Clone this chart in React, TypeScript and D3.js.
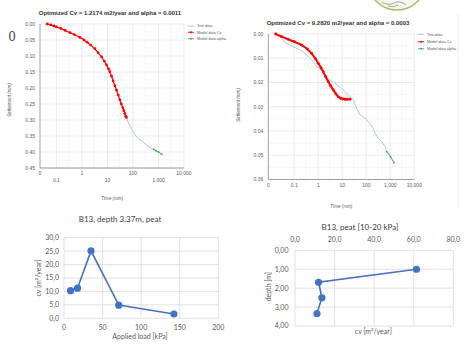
import React from 'react';
import * as d3 from 'd3';

// top-left consolidation test: [time (min), settlement (mm)]
const LEFT_TEST: [number, number][] = [
  [0.04, 0.0], [0.1, 0.008], [0.3, 0.024], [1, 0.044], [2, 0.063], [4, 0.087], [7, 0.112],
  [10, 0.134], [15, 0.168], [20, 0.196], [30, 0.236], [40, 0.263], [55, 0.292], [70, 0.313],
  [100, 0.337], [150, 0.356], [240, 0.368], [300, 0.375], [450, 0.385], [700, 0.394],
  [1000, 0.400], [1330, 0.407],
];
const LEFT_CV: [number, number][] = [
  [0.044, 0.0], [0.06, 0.003], [0.08, 0.006], [0.1, 0.009], [0.15, 0.014], [0.22, 0.02],
  [0.34, 0.027], [0.5, 0.033], [0.83, 0.042], [1.2, 0.05], [1.6, 0.057], [2.2, 0.066],
  [3.2, 0.077], [4.3, 0.09], [5.9, 0.103], [7.5, 0.116], [9.2, 0.128], [11, 0.14],
  [12.4, 0.149], [14.5, 0.163], [16.7, 0.178], [19.5, 0.193], [22.7, 0.207], [26.5, 0.222],
  [30.6, 0.237], [35, 0.25], [40, 0.262], [44, 0.271], [48, 0.28], [52, 0.288], [55, 0.292],
];
const LEFT_ALPHA: [number, number][] = [[650, 0.392], [800, 0.396], [1000, 0.4], [1330, 0.407]];

// top-right test
const RIGHT_TEST: [number, number][] = [
  [0.0168, 0.0], [0.03, 0.0018], [0.041, 0.0036], [0.066, 0.0045], [0.126, 0.0059],
  [0.204, 0.0069], [0.329, 0.0087], [0.531, 0.0107], [0.858, 0.0135], [1.18, 0.0142],
  [1.9, 0.0169], [3.07, 0.019], [4.96, 0.0203], [8.02, 0.022], [12.96, 0.0238], [20.9, 0.0259],
  [28.7, 0.0272], [39.8, 0.0306], [54.6, 0.0334], [75, 0.0341], [104, 0.0355], [143, 0.0368],
  [196, 0.0389], [230, 0.0409], [316, 0.043], [437, 0.0444], [600, 0.0465], [708, 0.0485],
  [883, 0.0492], [1143, 0.0513], [1426, 0.0529],
];
const RIGHT_CV: [number, number][] = [
  [0.0168, 0.0], [0.03, 0.0011], [0.056, 0.0022], [0.1, 0.0032], [0.2, 0.0045], [0.35, 0.0062],
  [0.53, 0.008], [0.75, 0.0101], [1, 0.0121], [1.3, 0.0139], [1.6, 0.0155], [2.0, 0.0175],
  [2.6, 0.0196], [3.3, 0.0214], [4.2, 0.0231], [5.4, 0.0247], [6.8, 0.0259], [8.5, 0.0265],
  [10.5, 0.0268], [12.9, 0.0269], [16, 0.0269], [21, 0.0269],
];
const RIGHT_ALPHA: [number, number][] = [[708, 0.0485], [1019, 0.0507], [1426, 0.0531]];

const TIME_TICKS = [0.1, 1, 10, 100, 1000, 10000];
const TIME_LABELS = ['0.1', '1', '10', '100', '1,000', '10,000'];
const LEFT_S_TICKS = [0, 0.05, 0.1, 0.15, 0.2, 0.25, 0.3, 0.35, 0.4, 0.45];
const RIGHT_S_TICKS = [0, 0.01, 0.02, 0.03, 0.04, 0.05, 0.06];
const LEGEND = ['Test data', 'Model data Cv', 'Model data alpha'];

// bottom charts
const LOAD_KPA = [8.5, 17.5, 35, 71, 142.5];
const CV_LOAD = [10.3, 11.2, 25.1, 4.9, 1.6];
const LOAD_TICKS = [0, 50, 100, 150, 200];
const CV_TICKS = [0, 5, 10, 15, 20, 25, 30];

const CV_DEPTH = [61.4, 11.9, 13.6, 11.1];
const DEPTH_M = [1.0, 1.69, 2.51, 3.34];
const CVD_TICKS = [0, 20, 40, 60, 80];
const DEPTH_TICKS = [0, 1, 2, 3, 4];

const BLUE_TEST = '#a9c8e8';
const RED = '#f00';
const GREEN = '#4caf50';
const XL_BLUE = '#4472c4';
const GRID = '#e3e3e3';
const TXT = '#595959';
const SANS = 'Liberation Sans, Arial, sans-serif';
const XL_FONT = 'Lato, Carlito, sans-serif';

interface SettleProps {
  title: string; titleX: number; titleY: number;
  x0: number; x1: number; y0: number; y1: number;
  tMin: number; sMax: number; sTicks: number[];
  stagger: boolean; legendX: number; legendY: number[];
  yLabelX: number; yLabelY: number; xLabelY: number;
  cvWidth: number;
  test: [number, number][]; cv: [number, number][]; alpha: [number, number][];
}

const SettlementChart: React.FC<SettleProps> = (p) => {
  const x = d3.scaleLog().domain([p.tMin, 10000]).range([p.x0, p.x1]);
  const y = d3.scaleLinear().domain([0, p.sMax]).range([p.y0, p.y1]);
  const line = d3.line<[number, number]>().x(d => x(d[0])).y(d => y(d[1]));
  const step = p.sTicks[1] - p.sTicks[0];
  const minorY = p.sTicks.slice(0, -1).map(v => v + step / 2);
  const minorX = TIME_TICKS.slice(0, -1).map(v => v * 3);
  return (
    <g>
      <text x={p.titleX} y={p.titleY} textAnchor="middle" fontSize={6} fontWeight="bold" fill="#333" fontFamily={SANS}>{p.title}</text>
      {minorY.map((v, i) => <line key={'my' + i} x1={p.x0} x2={p.x1} y1={y(v)} y2={y(v)} stroke="#f0f0f0" strokeWidth={0.6} />)}
      {minorX.map((v, i) => <line key={'mx' + i} x1={x(v)} x2={x(v)} y1={p.y0} y2={p.y1} stroke="#f0f0f0" strokeWidth={0.6} />)}
      {p.sTicks.map((v, i) => <line key={'gy' + i} x1={p.x0} x2={p.x1} y1={y(v)} y2={y(v)} stroke={GRID} strokeWidth={0.7} />)}
      {TIME_TICKS.map((v, i) => <line key={'gx' + i} x1={x(v)} x2={x(v)} y1={p.y0} y2={p.y1} stroke={GRID} strokeWidth={0.7} />)}
      <line x1={p.x0} x2={p.x0} y1={p.y0} y2={p.y1} stroke="#8c8c8c" strokeWidth={0.8} />
      <line x1={p.x0} x2={p.x1} y1={p.y1} y2={p.y1} stroke="#8c8c8c" strokeWidth={0.8} />
      {p.sTicks.map((v, i) => (
        <text key={'ly' + i} x={p.x0 - 5} y={y(v)} dy="0.35em" textAnchor="end" fontSize={5} fill={TXT} fontFamily={SANS}>{v.toFixed(2)}</text>
      ))}
      <text x={p.x0} y={p.y1 + 7} textAnchor="middle" fontSize={5} fill={TXT} fontFamily={SANS}>0</text>
      {TIME_TICKS.map((v, i) => (
        <text key={'lx' + i} x={x(v)} y={p.y1 + (p.stagger && i % 2 === 0 ? 14 : 7)} textAnchor="middle" fontSize={5} fill={TXT} fontFamily={SANS}>{TIME_LABELS[i]}</text>
      ))}
      <text transform={`translate(${p.yLabelX},${p.yLabelY}) rotate(-90)`} textAnchor="middle" fontSize={4.6} fontStyle="italic" fill={TXT} fontFamily={SANS}>Settlement (mm)</text>
      <text x={(p.x0 + p.x1) / 2} y={p.xLabelY} textAnchor="middle" fontSize={4.6} fontStyle="italic" fill={TXT} fontFamily={SANS}>Time (min)</text>
      <path d={line(p.test) || ''} fill="none" stroke={BLUE_TEST} strokeWidth={1} />
      <path d={line(p.cv) || ''} fill="none" stroke={RED} strokeWidth={p.cvWidth} />
      {p.cv.map((d, i) => <circle key={'c' + i} cx={x(d[0])} cy={y(d[1])} r={1.4} fill={RED} />)}
      <path d={line(p.alpha) || ''} fill="none" stroke={GREEN} strokeWidth={0.9} />
      {p.alpha.map((d, i) => <circle key={'a' + i} cx={x(d[0])} cy={y(d[1])} r={0.9} fill={GREEN} />)}
      {LEGEND.map((name, i) => {
        const col = [BLUE_TEST, RED, GREEN][i];
        const ly = p.legendY[i];
        return (
          <g key={name}>
            <line x1={p.legendX} x2={p.legendX + 6} y1={ly} y2={ly} stroke={col} strokeWidth={i === 0 ? 1.1 : 0.9} />
            {i > 0 && <circle cx={p.legendX + 3} cy={ly} r={1} fill={col} />}
            <text x={p.legendX + 9} y={ly} dy="0.35em" fontSize={3.8} fill={TXT} fontFamily={SANS}>{name}</text>
          </g>
        );
      })}
    </g>
  );
};

const fmt = (d: number, n: number) => d.toFixed(n).replace('.', ',');

const LoadChart: React.FC = () => {
  const x = d3.scaleLinear().domain([0, 200]).range([64, 218.3]);
  const y = d3.scaleLinear().domain([0, 30]).range([318.3, 237.7]);
  const pts = LOAD_KPA.map((v, i) => [v, CV_LOAD[i]] as [number, number]);
  const line = d3.line<[number, number]>().x(d => x(d[0])).y(d => y(d[1]));
  return (
    <g fontFamily={XL_FONT} fill={TXT}>
      <text x={120} y={222} textAnchor="middle" fontSize={8} fill="#404040">B13, depth 3.37m, peat</text>
      {CV_TICKS.map(v => <line key={'h' + v} x1={64} x2={218.3} y1={y(v)} y2={y(v)} stroke="#d9d9d9" strokeWidth={0.8} />)}
      {LOAD_TICKS.map(v => <line key={'v' + v} x1={x(v)} x2={x(v)} y1={237.7} y2={318.3} stroke="#d9d9d9" strokeWidth={0.8} />)}
      {CV_TICKS.map(v => (
        <text key={'ly' + v} x={59} y={y(v)} dy="0.35em" textAnchor="end" fontSize={7}>{fmt(v, 1)}</text>
      ))}
      {LOAD_TICKS.map(v => (
        <text key={'lx' + v} x={x(v)} y={330} textAnchor="middle" fontSize={7}>{v}</text>
      ))}
      <text x={140} y={338.5} textAnchor="middle" fontSize={7}>Applied load [kPa]</text>
      <text transform="translate(40.5,278) rotate(-90)" textAnchor="middle" fontSize={7}>cv [m²/year]</text>
      <path d={line(pts) || ''} fill="none" stroke={XL_BLUE} strokeWidth={1.6} />
      {pts.map((d, i) => <circle key={i} cx={x(d[0])} cy={y(d[1])} r={3.6} fill={XL_BLUE} />)}
    </g>
  );
};

const DepthChart: React.FC = () => {
  const x = d3.scaleLinear().domain([0, 80]).range([295, 453.3]);
  const y = d3.scaleLinear().domain([0, 4]).range([250.3, 326]);
  const pts = CV_DEPTH.map((v, i) => [v, DEPTH_M[i]] as [number, number]);
  const line = d3.line<[number, number]>().x(d => x(d[0])).y(d => y(d[1]));
  return (
    <g fontFamily={XL_FONT} fill={TXT}>
      <text x={360} y={230} textAnchor="middle" fontSize={8} fill="#404040">B13, peat [10-20 kPa]</text>
      {DEPTH_TICKS.map(v => <line key={'h' + v} x1={295} x2={453.3} y1={y(v)} y2={y(v)} stroke="#d9d9d9" strokeWidth={0.8} />)}
      {CVD_TICKS.map(v => <line key={'v' + v} x1={x(v)} x2={x(v)} y1={250.3} y2={326} stroke="#d9d9d9" strokeWidth={0.8} />)}
      {DEPTH_TICKS.map(v => (
        <text key={'ly' + v} x={288.5} y={y(v)} dy="0.35em" textAnchor="end" fontSize={7}>{fmt(v, 2)}</text>
      ))}
      {CVD_TICKS.map(v => (
        <text key={'lx' + v} x={x(v)} y={241.8} textAnchor="middle" fontSize={7}>{fmt(v, 1)}</text>
      ))}
      <text x={373.3} y={333.5} textAnchor="middle" fontSize={7}>cv [m²/year]</text>
      <text transform="translate(270.5,286.7) rotate(-90)" textAnchor="middle" fontSize={7}>depth [m]</text>
      <path d={line(pts) || ''} fill="none" stroke={XL_BLUE} strokeWidth={1.6} />
      {pts.map((d, i) => <circle key={i} cx={x(d[0])} cy={y(d[1])} r={3.6} fill={XL_BLUE} />)}
    </g>
  );
};

const App: React.FC = () => (
  <div style={{ position: 'absolute', left: 0, top: 0 }}>
    <svg width={471} height={347} viewBox="0 0 471 347" style={{ display: 'block', background: '#fff' }}>
      {/* partial logo at top */}
      <circle cx={397} cy={-19} r={29} fill="#f6f6ea" stroke="#a9b86a" strokeWidth={1.4} />
      <path d="M382,2 q6,4 12,1 q6,-3 12,2 M388,6 q5,2 10,-1" fill="none" stroke="#555" strokeWidth={0.5} />
      <line x1={458} x2={458} y1={14} y2={208} stroke="#dce9f6" strokeWidth={0.8} />
      <text x={12} y={41} textAnchor="middle" fontSize={12} fill="#444" fontFamily="DejaVu Serif, serif">0</text>
      <SettlementChart
        title="Optimized Cv = 1.2174 m2/year and alpha = 0.0011" titleX={110} titleY={15}
        x0={40} x1={184} y0={24} y1={168} tMin={0.0227} sMax={0.45} sTicks={LEFT_S_TICKS}
        stagger legendX={188} legendY={[26, 32.3, 38.7]} yLabelX={11} yLabelY={100} xLabelY={199.5}
        cvWidth={1.1}
        test={LEFT_TEST} cv={LEFT_CV} alpha={LEFT_ALPHA}
      />
      <SettlementChart
        title="Optimized Cv = 9.2820 m2/year and alpha = 0.0003" titleX={338} titleY={25}
        x0={268.3} x1={414.3} y0={34} y1={179.5} tMin={0.00826} sMax={0.06} sTicks={RIGHT_S_TICKS}
        stagger={false} legendX={418} legendY={[34.3, 41.7, 48.7]} yLabelX={239.5} yLabelY={105} xLabelY={207.5}
        cvWidth={2}
        test={RIGHT_TEST} cv={RIGHT_CV} alpha={RIGHT_ALPHA}
      />
      <LoadChart />
      <DepthChart />
    </svg>
  </div>
);

export default App;
